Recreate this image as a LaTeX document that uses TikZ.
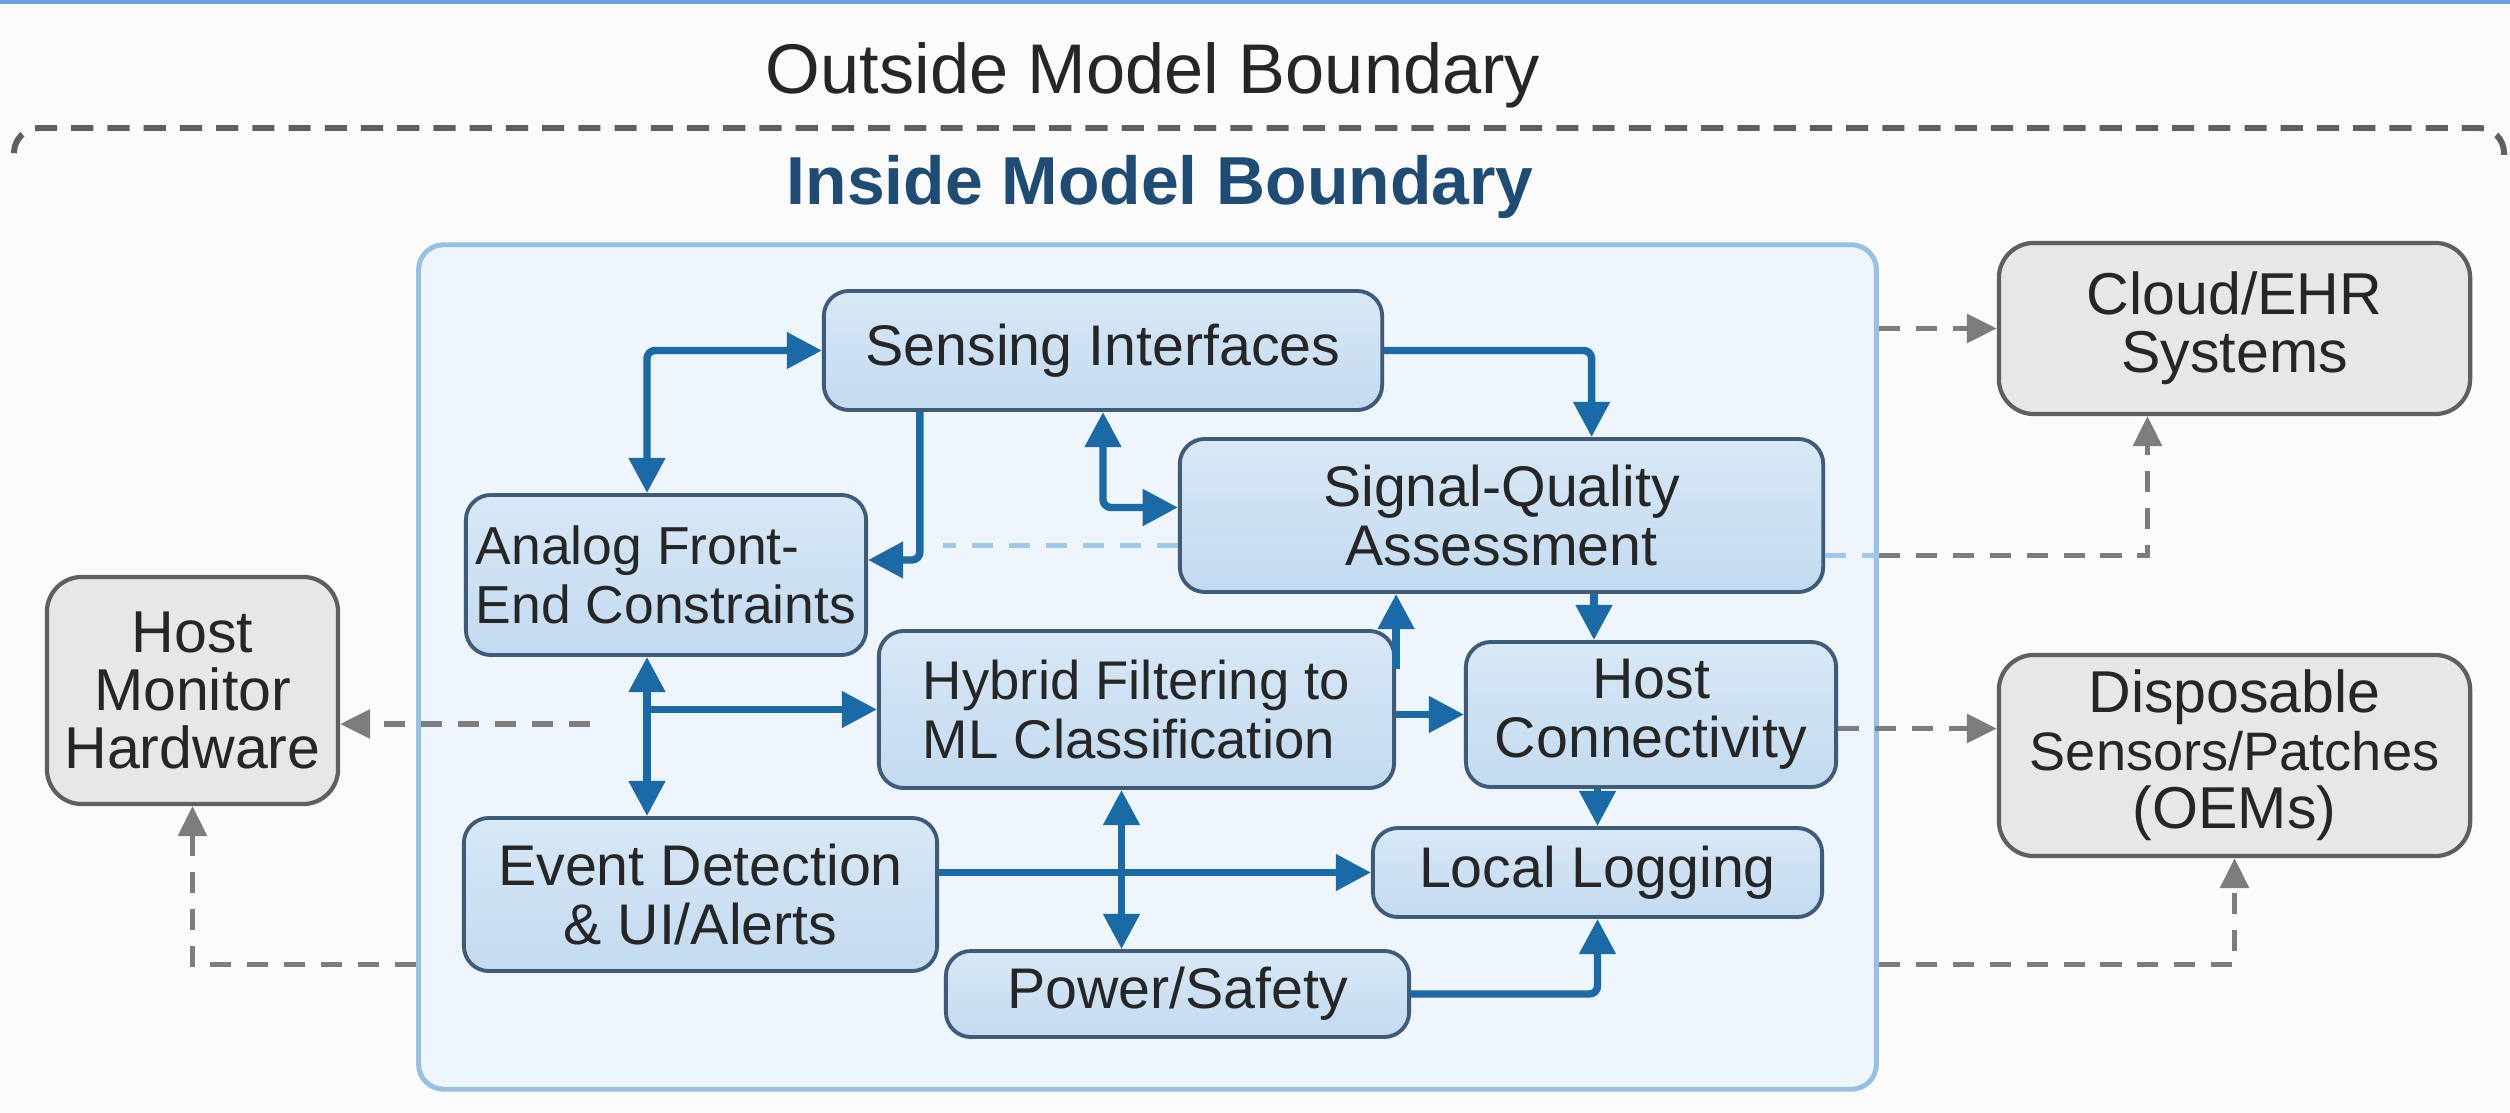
\documentclass[tikz,border=0pt]{standalone}
\usepackage{fontspec}
\setmainfont{Liberation Sans}
\usetikzlibrary{arrows.meta,positioning}

\definecolor{pagebg}{RGB}{251,251,251}
\definecolor{topline}{RGB}{110,158,228}
\definecolor{flowblue}{RGB}{26,106,168}
\definecolor{boxedge}{RGB}{62,92,122}
\definecolor{boxtop}{RGB}{216,232,246}
\definecolor{boxbot}{RGB}{194,218,240}
\definecolor{innerfill}{RGB}{238,245,252}
\definecolor{inneredge}{RGB}{150,192,228}
\definecolor{extfill}{RGB}{231,231,231}
\definecolor{extedge}{RGB}{95,95,95}
\definecolor{dashgray}{RGB}{125,125,125}
\definecolor{outergray}{RGB}{95,95,95}
\definecolor{lightdash}{RGB}{160,200,234}
\definecolor{titleblue}{RGB}{30,76,116}

\tikzset{
  blk/.style={draw=boxedge, line width=1.1pt, rounded corners=0.25cm,
    top color=boxtop, bottom color=boxbot, inner sep=0pt,
    font=\fontsize{16.3}{16.8}\selectfont, text=black!85},
  ext/.style={draw=extedge, line width=1.2pt, rounded corners=0.35cm,
    fill=extfill, inner sep=0pt, align=center,
    font=\fontsize{16.8}{16.5}\selectfont, text=black!85},
  inbox/.style={draw=inneredge, line width=1.4pt, rounded corners=0.25cm,
    fill=innerfill, minimum width=14.57cm, minimum height=8.44cm},
  bflow/.style={draw=flowblue, line width=2.1pt, rounded corners=0.08cm,
    >={Triangle[length=10pt,width=10pt]}},
  gdash/.style={draw=dashgray, line width=1.5pt, dash pattern=on 6pt off 4.5pt,
    >={Triangle[length=8.5pt,width=8pt]}},
  ldash/.style={draw=lightdash, line width=1.5pt, dash pattern=on 6pt off 4.5pt},
  odash/.style={draw=outergray, line width=1.7pt, dash pattern=on 6.3pt off 4pt,
    rounded corners=0.25cm}
}

\begin{document}
\begin{tikzpicture}[x=0.01cm,y=-0.01cm]
    \useasboundingbox (0,0) rectangle (2510,1113);
    \fill[pagebg] (0,0) rectangle (2510,1113);
    \fill[topline] (0,0) rectangle (2510,4);

    % boundaries
    \node[font=\fontsize{20}{20}\selectfont, text=black!85] (outtitle) at (1153,75) {Outside Model Boundary};
    \draw[odash] (14,152) |- (2504,128) -- (2504,168);
    \node[inbox] (inner) at (1147.5,667) {};
    \node[font=\bfseries\fontsize{19.3}{20}\selectfont, text=titleblue] (intitle) at (1160,187) {Inside Model Boundary};

    % inside blocks
    \node[blk, minimum width=5.58cm, minimum height=1.19cm] (sens) at (1103,350.5) {Sensing Interfaces};
    \node[blk, align=center, minimum width=6.43cm, minimum height=1.53cm] (sqa) at (1501.5,515.5) {Signal-Quality\\Assessment};
    \node[blk, align=left, minimum width=4.00cm, minimum height=1.60cm,
      font=\fontsize{15.2}{16.8}\selectfont] (afe) at (666,575) {Analog Front-\\End Constraints};
    \node[blk, align=left, minimum width=5.15cm, minimum height=1.57cm,
      font=\fontsize{15.5}{16.8}\selectfont] (hyb) at (1136.5,709.5) {Hybrid Filtering to\\ML Classification};
    \node[blk, align=center, minimum width=3.70cm, minimum height=1.45cm] (hcon) at (1651,714.5) {Host\\Connectivity};
    \node[blk, align=center, minimum width=4.73cm, minimum height=1.53cm] (evt) at (700.5,894.5) {Event Detection\\\& UI/Alerts};
    \node[blk, minimum width=4.49cm, minimum height=0.89cm] (log) at (1597.5,872.5) {Local Logging};
    \node[blk, minimum width=4.63cm, minimum height=0.86cm] (pow) at (1177.5,994) {Power/Safety};

    % outside blocks
    \node[ext, minimum width=2.91cm, minimum height=2.27cm] (hmh) at (192.5,690.5) {Host\\Monitor\\Hardware};
    \node[ext, minimum width=4.71cm, minimum height=1.71cm] (cld) at (2234.5,328.5) {Cloud/EHR\\Systems};
    \node[ext, minimum width=4.71cm, minimum height=2.01cm] (dsp) at (2234.5,755.5) {Disposable\\{\fontsize{15.4}{16.5}\selectfont Sensors/Patches}\\(OEMs)};

    % blue flows
    \draw[bflow,<->] ([xshift=-0.19cm]afe.north) |- (sens.west);
    \draw[bflow,->] ([xshift=-1.83cm]sens.south) |- ([yshift=0.15cm]afe.east);
    \draw[bflow,->] (sens.east) -| ([xshift=0.9cm]sqa.north);
    \draw[bflow,<->] (sens.south) |- ([yshift=0.08cm]sqa.west);
    \draw[bflow,<->] ([xshift=-0.19cm]afe.south) -- ([xshift=-0.19cm]afe.south |- evt.north);
    \draw[bflow,->] ([xshift=-0.19cm]afe.south |- hyb.west) -- (hyb.west);
    \draw[bflow,->] ([yshift=0.4cm]hyb.east) -- (hyb.east |- sqa.south);
    \draw[bflow,->] (hyb.east |- hcon.west) -- (hcon.west);
    \draw[bflow,->] ([xshift=-0.57cm]hcon.north |- sqa.south) -- ([xshift=-0.57cm]hcon.north);
    \draw[bflow,->] (log.north |- hcon.south) -- (log.north);
    \draw[bflow,->] (evt.east |- log.west) -- (log.west);
    \draw[bflow,<->] ([xshift=-0.15cm]hyb.south) -- ([xshift=-0.15cm]hyb.south |- pow.north);
    \draw[bflow,->] (pow.east) -| (log.south);

    % dashed links
    \coordinate (hmhsrc) at (590,724);
    \draw[ldash] ([yshift=-0.3cm]sqa.west) -- ++(-235,0);
    \draw[ldash] ([yshift=-0.4cm]sqa.east) -- ([yshift=-0.4cm]sqa.east -| inner.east);
    \draw[gdash,->] ([yshift=-0.4cm]sqa.east -| inner.east) -| ([xshift=-0.87cm]cld.south);
    \draw[gdash,->] (inner.east |- cld.west) -- (cld.west);
    \draw[gdash,->] ([yshift=-0.14cm]hcon.east) -- ([yshift=-0.14cm]hcon.east -| dsp.west);
    \draw[gdash,->] ([yshift=1.27cm]inner.south east) -| (dsp.south);
    \draw[gdash,->] ([yshift=1.27cm]inner.south west) -| (hmh.south);
    \draw[gdash,->] (hmhsrc) -- (hmhsrc -| hmh.east);
\end{tikzpicture}
\end{document}
